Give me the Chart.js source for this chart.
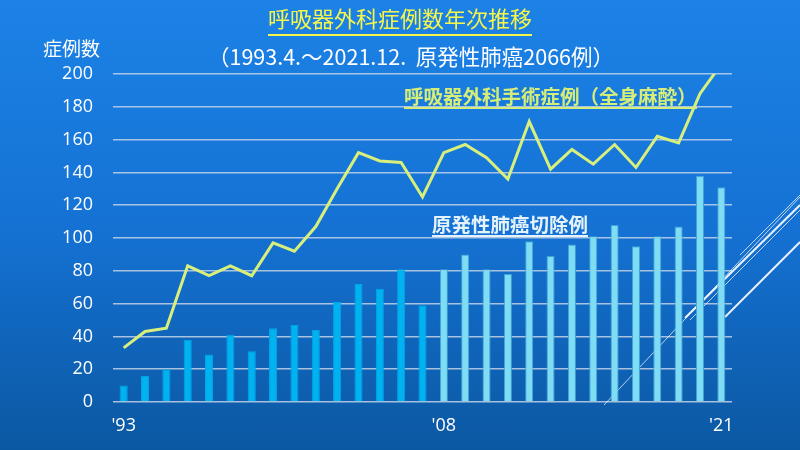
<!DOCTYPE html>
<html>
<head>
<meta charset="utf-8">
<script src="https://cdn.jsdelivr.net/npm/chart.js@4/dist/chart.umd.min.js"></script>
<style>
  html, body { margin: 0; padding: 0; }
  body {
    width: 800px; height: 450px; overflow: hidden; position: relative;
    background: linear-gradient(180deg, #1c82e6 0%, #1572d4 50%, #0b58a2 100%);
    font-family: "Noto Sans CJK JP", "Noto Sans", sans-serif;
  }
  #wrap { position: absolute; left: 0; top: 0; width: 800px; height: 450px; }
  .txt { position: absolute; white-space: nowrap; line-height: 1; }
  #title { left: 0; width: 800px; text-align: center; top: 6px; font-size: 22px; color: #f6f54a; }
  #title span { border-bottom: 2px solid #f6f54a; padding-bottom: 1px; }
  #sub { left: 0; width: 822px; text-align: center; top: 45px; font-size: 21.5px; color: #ffffff; }
  #ylab { left: 43px; top: 38px; font-size: 19px; color: #ffffff; }
  #lineLab { left: 404px; top: 86px; font-size: 19.5px; font-weight: bold; color: #d6ee78; border-bottom: 2px solid #d6ee78; padding-bottom: 1px; }
  #barLab { left: 432px; top: 214px; font-size: 19.5px; font-weight: bold; color: #e4f3fb; border-bottom: 2px solid #e4f3fb; padding-bottom: 1px; }
</style>
</head>
<body>
<div id="wrap"><canvas id="myChart" width="800" height="450"></canvas></div>
<div class="txt" id="title"><span>呼吸器外科症例数年次推移</span></div>
<div class="txt" id="sub">（1993.4.～2021.12.&nbsp; 原発性肺癌2066例）</div>
<div class="txt" id="ylab">症例数</div>
<div class="txt" id="lineLab">呼吸器外科手術症例（全身麻酔）</div>
<div class="txt" id="barLab">原発性肺癌切除例</div>
<script>
// years 1993 - 2021
const years = [1993, 1994, 1995, 1996, 1997, 1998, 1999, 2000, 2001, 2002,
  2003, 2004, 2005, 2006, 2007, 2008, 2009, 2010, 2011, 2012,
  2013, 2014, 2015, 2016, 2017, 2018, 2019, 2020, 2021];
// 原発性肺癌切除例
const lungCancer = [10, 16, 20, 38, 29, 41, 31, 45, 47, 44,
  61, 72, 69, 81, 59, 81, 90, 81, 78, 98,
  89, 96, 101, 108, 95, 101, 107, 138, 131];
// 呼吸器外科手術症例（全身麻酔）
const surgery = [33, 43, 45, 83, 77, 83, 77, 97, 92, 107,
  130, 152, 147, 146, 125, 152, 157, 149, 136, 171,
  142, 154, 145, 157, 143, 162, 158, 188, 206];
const yTicks = [0, 20, 40, 60, 80, 100, 120, 140, 160, 180, 200];
const shownYears = { 1993: "'93", 2008: "'08", 2021: "'21" };

const labels = years.map(String);
const barFill = years.map(y => y < 2008 ? '#00b2f0' : '#80dcf4');
const barBorder = years.map(y => y < 2008 ? '#00a6e6' : '#3aa6d2');

// diagonal decoration lines bottom right
const deco = {
  id: 'deco',
  beforeDatasetsDraw(chart) {
    const c = chart.ctx;
    c.save();
    c.strokeStyle = 'rgba(255,255,255,0.9)';
    const lines = [
      [604, 405, 800, 197, 0.8],
      [685, 318, 800, 205, 2],
      [690, 320, 800, 210, 0.8],
      [725, 317, 800, 242, 2],
      [740, 255, 800, 195, 0.8]
    ];
    lines.forEach(l => {
      c.lineWidth = l[4];
      c.beginPath();
      c.moveTo(l[0], l[1]);
      c.lineTo(l[2], l[3]);
      c.stroke();
    });
    c.restore();
  }
};

const ctx = document.getElementById('myChart');
new Chart(ctx, {
  type: 'bar',
  data: {
    labels: labels,
    datasets: [{
      type: 'line',
      label: '呼吸器外科手術症例（全身麻酔）',
      data: surgery,
      borderColor: '#d8ef7c',
      borderWidth: 3,
      pointRadius: 0,
      tension: 0,
      clip: 0,
      order: 0
    }, {
      type: 'bar',
      label: '原発性肺癌切除例',
      data: lungCancer,
      backgroundColor: barFill,
      borderColor: barBorder,
      borderWidth: 1,
      categoryPercentage: 1,
      barPercentage: 0.38,
      order: 1
    }]
  },
  options: {
    responsive: false,
    animation: false,
    layout: { padding: { top: 74, right: 68, left: 0, bottom: 0 } },
    plugins: { legend: { display: false }, tooltip: { enabled: false } },
    scales: {
      x: {
        grid: { display: false },
        border: { display: false },
        ticks: {
          autoSkip: false,
          maxRotation: 0,
          color: '#ffffff',
          padding: 5,
          font: { family: 'Open Sans', size: 18 },
          callback: function(v, i) { return shownYears[years[i]] || ''; }
        },
        afterFit: function(s) { s.height = 48; }
      },
      y: {
        min: 0,
        max: 200,
        afterBuildTicks: function(s) { s.ticks = yTicks.map(v => ({ value: v })); },
        grid: { color: 'rgba(195,210,230,0.85)', lineWidth: 1.5, drawTicks: false },
        border: { display: false },
        ticks: {
          color: '#ffffff',
          padding: 20,
          font: { family: 'Open Sans', size: 18 }
        },
        afterFit: function(s) { s.width = 113; }
      }
    }
  },
  plugins: [deco]
});
</script>
</body>
</html>
